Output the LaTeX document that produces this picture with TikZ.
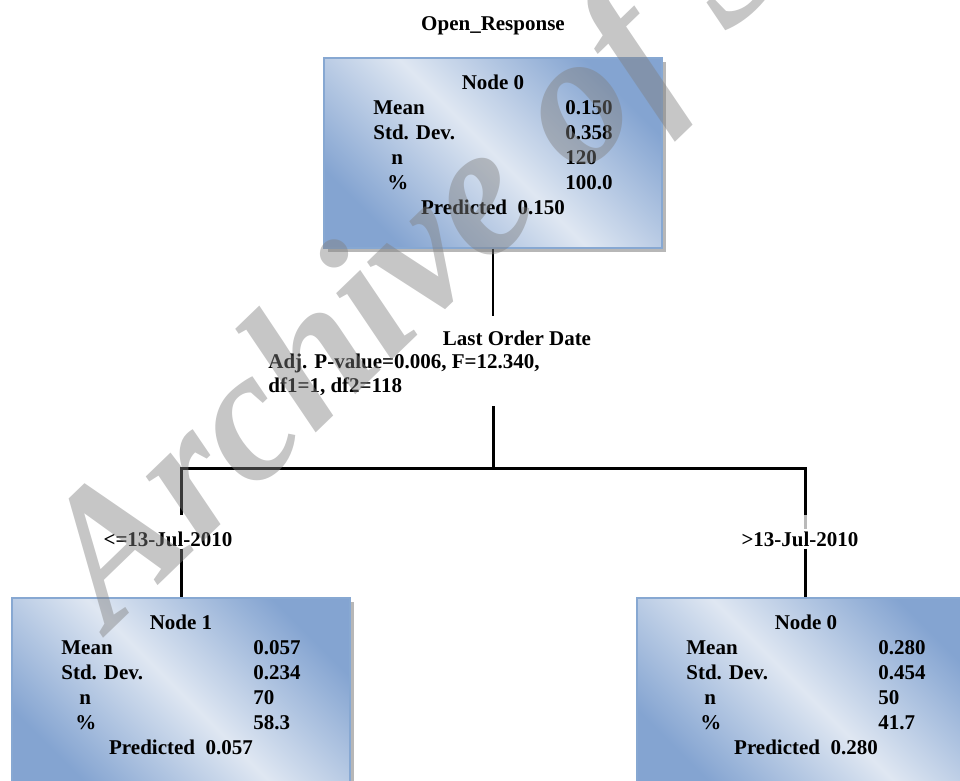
\documentclass[tikz,border=0pt]{standalone}
\usepackage{fontspec}
\setmainfont{Liberation Serif}
\usetikzlibrary{positioning,shadows}
\definecolor{boxblue}{RGB}{132,164,209}
\definecolor{boxlight}{RGB}{223,231,242}
\definecolor{boxline}{RGB}{135,168,210}
\newcommand{\nodestats}[6]{%
 \begin{tabular}{@{}p{96pt}@{}l@{}}
 \multicolumn{2}{@{}c@{}}{#1}\\
 Mean & #2\\
 Std. Dev. & #3\\
 \hspace*{9pt}n & #4\\
 \hspace*{7pt}\% & #5\\
 \multicolumn{2}{@{}c@{}}{Predicted\ \ #6}
 \end{tabular}}

\begin{document}
\begin{tikzpicture}
[x=0.5pt,y=-0.5pt,
statbox/.style = {draw=boxline, line width=0.7pt, top color=boxblue, bottom color=boxblue, middle color=boxlight, shading angle=-45, minimum width=169pt, minimum height=95pt, inner sep=0pt, drop shadow={shadow xshift=2pt, shadow yshift=-2pt, fill=gray!80, opacity=0.7}},
stattext/.style = {inner sep=0pt, font=\fontsize{10.5}{12.5}\selectfont\bfseries},
lbl/.style = {inner sep=1pt, font=\fontsize{10.5}{12}\selectfont\bfseries},
link/.style = {line width=1.5pt},
linkshadow/.style = {line width=1.5pt, gray!55, xshift=1.5pt, yshift=-1.5pt},
watermark/.style = {anchor=base west, rotate=44, inner sep=0pt, text=gray, opacity=0.45, font=\fontsize{94}{94}\selectfont\bfseries\itshape},]
\useasboundingbox (0,0) rectangle (960,781);
\clip (0,0) rectangle (960,781);
\node[lbl] (title) at (493,26) {Open\_Response};
\node[statbox] (n0) at (493,153) {};
\node[stattext, below=7pt of n0.north] (t0) {\nodestats{Node 0}{0.150}{0.358}{120}{100.0}{0.150}};
\node[lbl] (split) at (517,338) {Last Order Date};
\node[lbl, anchor=west, align=left] (stats) at (266,375) {Adj. P-value=0.006, F=12.340,\\df1=1, df2=118};
\coordinate (fork) at (493,468);
\coordinate (legL) at (181,468);
\coordinate (legR) at (805,468);
\node[lbl] (c1) at (168,539) {<=13-Jul-2010};
\node[lbl] (c2) at (800,539) {>13-Jul-2010};
\node[statbox] (n1) at (181,693) {};
\node[stattext, below=7pt of n1.north] (t1) {\nodestats{Node 1}{0.057}{0.234}{70}{58.3}{0.057}};
\node[statbox] (n2) at (806,693) {};
\node[stattext, below=7pt of n2.north] (t2) {\nodestats{Node 0}{0.280}{0.454}{50}{41.7}{0.280}};
\draw[line width=1pt, shorten >=6pt] (n0.south) -- (n0.south |- split.north);
\draw[link, shorten <=4pt] (fork |- stats.south) -- (fork);
\draw[linkshadow, shorten <=7pt] (legL |- c1.north) -- (legL) -- (legR) -- (legR |- c2.north);
\draw[linkshadow] (legL |- c1.south) -- (legL |- n1.north);
\draw[linkshadow] (legR |- c2.south) -- (legR |- n2.north);
\draw[link, shorten <=7pt, shorten >=7pt] (legL |- c1.north) -- (legL) -- (legR) -- (legR |- c2.north);
\draw[link] (legL |- c1.south) -- (legL |- n1.north);
\draw[link] (legR |- c2.south) -- (legR |- n2.north);
\node[watermark] (wm) at (110,632) {Archive of SID};
\end{tikzpicture}
\end{document}
